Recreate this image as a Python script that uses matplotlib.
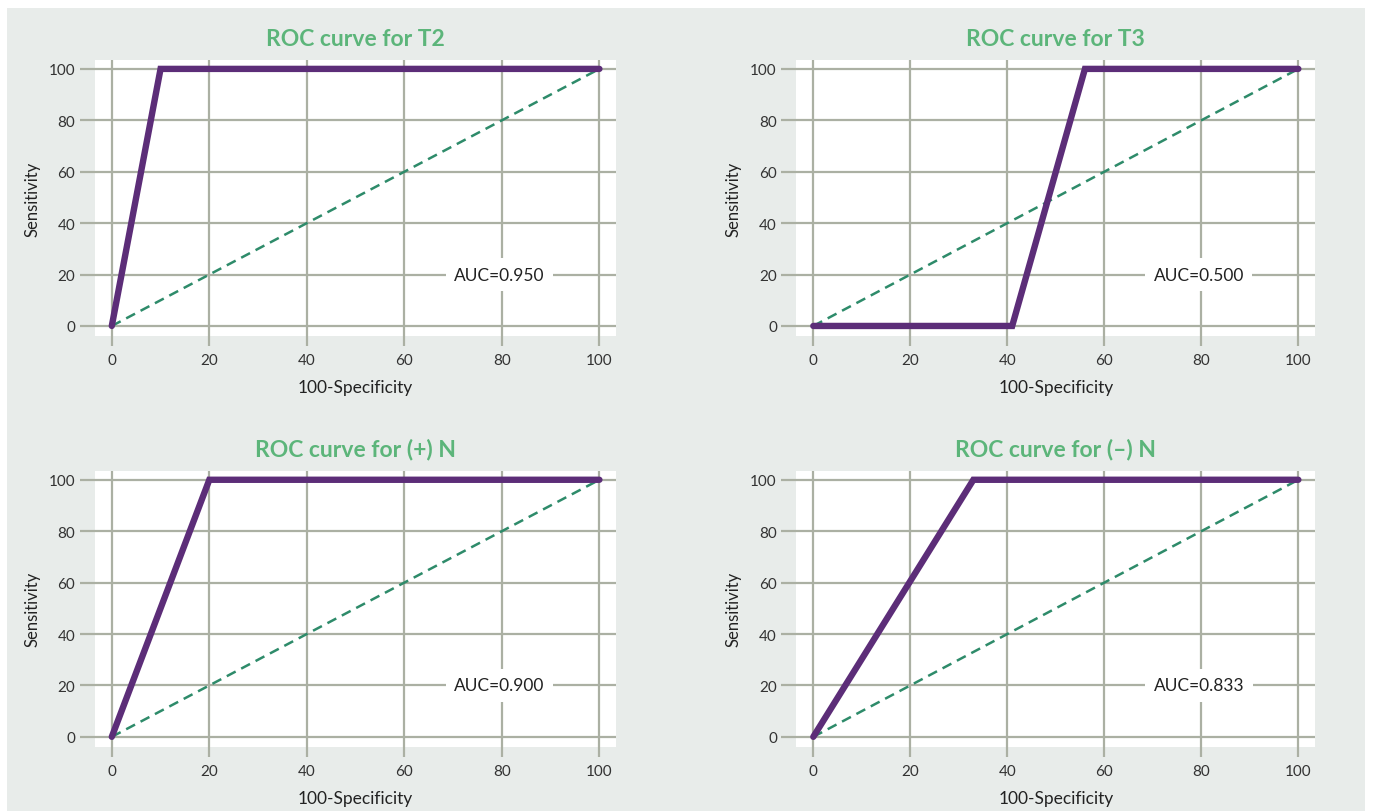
import matplotlib.pyplot as plt
from matplotlib.patches import Rectangle

titles = ['ROC curve for T2', 'ROC curve for T3', 'ROC curve for (+) N', 'ROC curve for (\u2013) N']
auc_labels = ['AUC=0.950', 'AUC=0.500', 'AUC=0.900', 'AUC=0.833']
roc_x = [[0, 10, 100], [0, 41, 56, 100], [0, 20, 100], [0, 33, 100]]
roc_y = [[0, 100, 100], [0, 0, 100, 100], [0, 100, 100], [0, 100, 100]]
ref_line = [0, 100]
ticks = [0, 20, 40, 60, 80, 100]

plt.rcParams['font.family'] = ['Lato', 'DejaVu Sans']

fig = plt.figure(figsize=(13.73, 8.12), dpi=100)
fig.patch.set_facecolor('white')
fig.add_artist(Rectangle((7 / 1373, 0), 1358 / 1373, 803 / 812,
                         transform=fig.transFigure, facecolor='#e8ecea',
                         edgecolor='none', zorder=-10))

grid_col = '#abb0a3'
positions = [[0.069, 0.585, 0.380, 0.340], [0.580, 0.585, 0.378, 0.340],
             [0.069, 0.079, 0.380, 0.340], [0.580, 0.079, 0.378, 0.340]]

for i in range(4):
    ax = fig.add_axes(positions[i])
    ax.set_facecolor('white')
    for s in ax.spines.values():
        s.set_visible(False)
    ax.set_xlim(-3.5, 103.5)
    ax.set_ylim(-3.9, 103.5)
    ax.set_xticks(ticks)
    ax.set_yticks(ticks)
    ax.grid(True, color=grid_col, linewidth=1.6, zorder=1)
    ax.tick_params(axis='x', length=7, width=1.6, color=grid_col, labelsize=11,
                   labelcolor='#333333', pad=5)
    ax.tick_params(axis='y', length=11, width=1.6, color=grid_col, labelsize=11,
                   labelcolor='#333333', pad=3)
    ax.plot(ref_line, ref_line, color='#2e8b6a', linestyle='--', linewidth=1.8,
            dashes=(4, 2.5), zorder=3)
    ax.plot(roc_x[i], roc_y[i], color='#5c2d78', linewidth=4.6,
            solid_capstyle='round', solid_joinstyle='miter', zorder=4)
    ax.text(79.5, 20, auc_labels[i], ha='center', va='center', fontsize=12.5,
            color='#222222', zorder=5,
            bbox=dict(facecolor='white', edgecolor='none', pad=6))
    ax.set_xlabel('100-Specificity', fontsize=12.5, color='#222222', labelpad=9)
    ax.set_ylabel('Sensitivity', fontsize=12, color='#222222', labelpad=6)
    ax.set_title(titles[i], fontsize=16.5, fontweight='bold', color='#5cb57a', pad=11)

fig.savefig('out.png', dpi=100)
